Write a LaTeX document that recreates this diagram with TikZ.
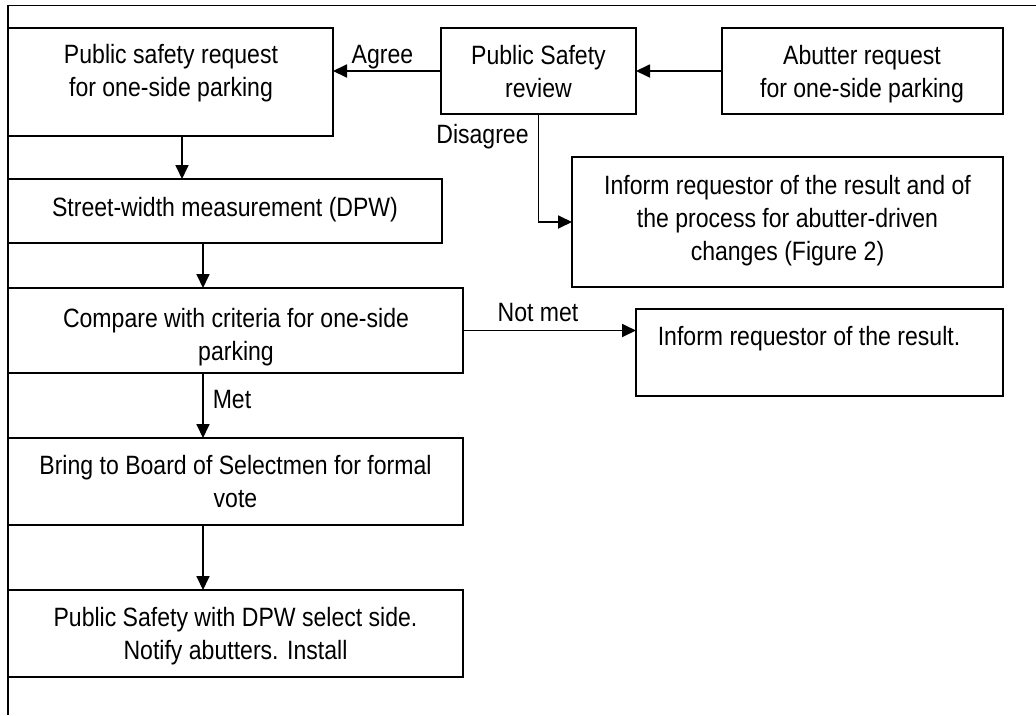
\documentclass[tikz,border=0pt]{standalone}
\usepackage{fontspec}
\setmainfont{Liberation Sans}[FakeStretch=0.87]
\usetikzlibrary{arrows.meta}
\begin{document}
\begin{tikzpicture}[x=1pt,y=-1pt,
  box/.style={draw, line width=1.8pt, rectangle, inner sep=0pt, outer sep=0pt},
  txt/.style={anchor=north, inner sep=0pt, outer sep=0pt, align=center, font=\fontsize{26.5}{33}\selectfont},
  arr/.style={line width=1.8pt, -{Triangle[length=14pt,width=13pt]}},
  frameline/.style={line width=1.8pt}]
\useasboundingbox (0,0) rectangle (1036,715);
% frame
\coordinate (f1) at (8,715);
\coordinate (f2) at (8,5.5);
\coordinate (f3) at (1036,5.5);
\draw[frameline] (f1) -- (f2) -- (f3);
% boxes
\node[box, minimum width=325pt, minimum height=108pt] (A) at (170.5,82) {};
\node[box, minimum width=195pt, minimum height=86pt] (B) at (538.5,71) {};
\node[box, minimum width=281pt, minimum height=86pt] (C) at (862.5,71) {};
\node[box, minimum width=431pt, minimum height=130pt] (D) at (787.5,222) {};
\node[box, minimum width=434pt, minimum height=64pt] (E) at (225,211) {};
\node[box, minimum width=455pt, minimum height=85pt] (F) at (235.5,330.5) {};
\node[box, minimum width=367pt, minimum height=87pt] (G) at (819.5,352.5) {};
\node[box, minimum width=455pt, minimum height=87pt] (H) at (235.5,481.5) {};
\node[box, minimum width=455pt, minimum height=87pt] (I) at (235.5,633.5) {};
% texts
\node[txt] (tA) at (171,44) {Public safety request\\for one-side parking};
\node[txt] (tB) at (538.5,45) {Public Safety\\review};
\node[txt] (tC) at (862,45) {Abutter request\\for one-side parking};
\node[txt] (tD) at (787.5,175) {Inform requestor of the result and of\\the process for abutter-driven\\changes (Figure 2)};
\node[txt] (tE) at (225,197) {Street-width measurement (DPW)};
\node[txt] (tF) at (236,308) {Compare with criteria for one-side\\parking};
\node[txt] (tG) at (809,326) {Inform requestor of the result.};
\node[txt] (tH) at (235.5,455) {Bring to Board of Selectmen for formal\\vote};
\node[txt] (tI) at (235.5,607) {Public Safety with DPW select side.\\Notify abutters. Install};
% labels
\node[txt] (lAgree) at (382.5,45) {Agree};
\node[txt] (lDis) at (482.5,124) {Disagree};
\node[txt] (lNot) at (538,303) {Not met};
\node[txt] (lMet) at (232,390) {Met};
% connectors
\coordinate (xa) at (182,0);
\coordinate (xb) at (203,0);
\draw[arr] (C.west) -- (B.east);
\draw[arr] (B.west) -- (B.west -| A.east);
\draw[arr] (B.south) |- (D.west);
\draw[arr] (A.south -| xa) -- (E.north -| xa);
\draw[arr] (E.south -| xb) -- (F.north -| xb);
\draw[arr] (F.east) -- (F.east -| G.west);
\draw[arr] (F.south -| xb) -- (H.north -| xb);
\draw[arr] (H.south -| xb) -- (I.north -| xb);
\end{tikzpicture}
\end{document}
